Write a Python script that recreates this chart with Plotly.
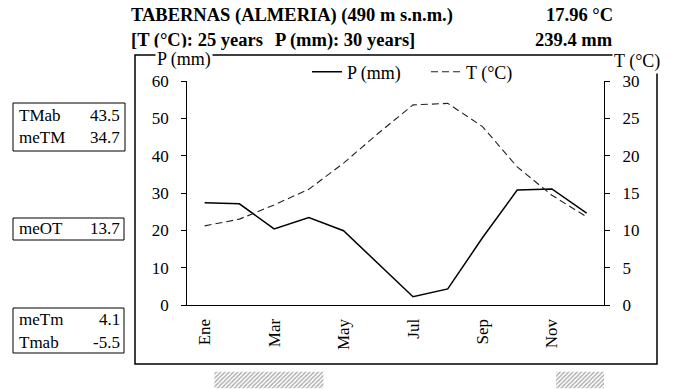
import plotly.graph_objects as go

# ---------------- data ----------------
months = ["Ene", "Feb", "Mar", "Abr", "May", "Jun", "Jul", "Ago", "Sep", "Oct", "Nov", "Dic"]
tick_labels = ["Ene", "Mar", "May", "Jul", "Sep", "Nov"]
precip_mm = [27.4, 27.1, 20.4, 23.4, 19.9, 11.0, 2.2, 4.3, 18.0, 30.8, 31.1, 24.6]
temp_c = [10.6, 11.5, 13.4, 15.5, 19.0, 23.0, 26.8, 27.0, 23.9, 18.5, 14.7, 11.8]
# hatched frost-period bars (month-axis units: start, end)
frost_start = [0.28, 10.12]
frost_end = [3.42, 11.88]
box_top = [("TMab", "43.5"), ("meTM", "34.7")]
box_mid = [("meOT", "13.7")]
box_bot = [("meTm", "4.1"), ("Tmab", "-5.5")]
title_line1 = "TABERNAS (ALMERIA) (490 m s.n.m.)"
title_line2a = "[T (°C): 25 years"
title_line2b = "P (mm): 30 years]"
annual_t = "17.96 °C"
annual_p = "239.4 mm"

W, H = 683, 389
FONT = "Liberation Serif, Times New Roman, DejaVu Serif, serif"


def fx(px):
    return px / W


def fy(py):
    return (H - py) / H


# plot-area pixel box
PL, PR, PT, PB = 187.3, 604.0, 81.0, 305.0

x_idx = list(range(12))

fig = go.Figure()

fig.add_trace(go.Scatter(
    x=x_idx, y=precip_mm, mode="lines", name="P (mm)",
    line=dict(color="black", width=1.5), xaxis="x", yaxis="y"))
fig.add_trace(go.Scatter(
    x=x_idx, y=temp_c, mode="lines", name="T (°C)",
    line=dict(color="#222", width=1.1, dash="7px,4px"), xaxis="x", yaxis="y2"))

fig.add_trace(go.Bar(
    y=[0.5] * len(frost_start),
    x=[e - s for s, e in zip(frost_start, frost_end)],
    base=frost_start, orientation="h", width=1.0,
    marker=dict(color="white", line=dict(width=0),
                pattern=dict(shape="/", fgcolor="#555", bgcolor="white", size=3, solidity=0.45)),
    showlegend=False, xaxis="x3", yaxis="y3", hoverinfo="skip"))

xdom = [fx(PL), fx(PR)]
ydom = [fy(PB), fy(PT)]
TICKF = dict(family=FONT, size=17)

fig.update_layout(
    width=W, height=H,
    margin=dict(l=0, r=0, t=0, b=0, pad=0, autoexpand=False),
    paper_bgcolor="white", plot_bgcolor="white",
    font=dict(family=FONT, size=16, color="black"),
    showlegend=True,
    legend=dict(orientation="h", x=fx(307), y=fy(72), xanchor="left", yanchor="middle",
                font=dict(family=FONT, size=18), bgcolor="rgba(0,0,0,0)",
                entrywidth=74, entrywidthmode="pixels", tracegroupgap=0),
    xaxis=dict(domain=xdom, range=[-0.5, 11.5], tickmode="array",
               tickvals=[0, 2, 4, 6, 8, 10], ticktext=tick_labels, ticks="",
               tickangle=-90, showline=True, linecolor="black", linewidth=1.2,
               showgrid=False, zeroline=False, anchor="y", ticklabelstandoff=6,
               tickfont=TICKF),
    xaxis2=dict(domain=xdom, range=[-0.5, 11.5], overlaying="x", anchor="y",
                tickmode="array", tickvals=[i - 0.5 for i in range(13)],
                ticks="outside", ticklen=5, tickcolor="black", tickwidth=1,
                showticklabels=False, showline=False, showgrid=False, zeroline=False,
                side="bottom"),
    yaxis=dict(domain=ydom, range=[0, 60], dtick=10, ticks="outside", ticklen=5,
               tickcolor="black", showline=True, linecolor="black", linewidth=1.2,
               showgrid=False, zeroline=False, anchor="x", ticklabelstandoff=9,
               tickfont=TICKF),
    yaxis2=dict(domain=ydom, range=[0, 30], dtick=5, ticks="outside", ticklen=5,
                tickcolor="black", showline=True, linecolor="black", linewidth=1.2,
                showgrid=False, zeroline=False, overlaying="y", side="right", anchor="x",
                ticklabelstandoff=9, tickfont=TICKF),
    xaxis3=dict(domain=xdom, range=[-0.5, 11.5], visible=False, anchor="y3"),
    yaxis3=dict(domain=[fy(388.5), fy(371.5)], range=[0, 1], visible=False, anchor="x3"),
)

shapes = [
    dict(type="rect", xref="paper", yref="paper", x0=fx(135), x1=fx(657), y0=fy(364), y1=fy(55),
         line=dict(color="black", width=1.5)),
    dict(type="rect", xref="paper", yref="paper", x0=fx(13), x1=fx(125), y0=fy(151), y1=fy(103),
         line=dict(color="black", width=1)),
    dict(type="rect", xref="paper", yref="paper", x0=fx(13), x1=fx(124), y0=fy(240), y1=fy(218),
         line=dict(color="black", width=1)),
    dict(type="rect", xref="paper", yref="paper", x0=fx(13), x1=fx(124), y0=fy(353), y1=fy(308),
         line=dict(color="black", width=1)),
]
fig.update_layout(shapes=shapes)

ann = []


def text(x, y, s, anchor="left", size=16, bold=False, bg=None):
    d = dict(x=fx(x), y=fy(y), xref="paper", yref="paper", text=("<b>%s</b>" % s) if bold else s,
             showarrow=False, xanchor=anchor, yanchor="middle",
             font=dict(family=FONT, size=size, color="black"))
    if bg:
        d["bgcolor"] = bg
        d["borderpad"] = 1
    ann.append(d)


text(129, 15, title_line1, bold=True, size=18.5)
text(615, 15, annual_t, anchor="right", bold=True, size=18.5)
text(129, 40, title_line2a, bold=True, size=18.5)
text(273, 40, title_line2b, bold=True, size=18.5)
text(615, 40, annual_p, anchor="right", bold=True, size=18.5)

text(184, 60, "P (mm)", anchor="center", size=18, bg="white")
text(637, 61, "T (°C)", anchor="center", size=18, bg="white")

for (lab, val), yy in zip(box_top, [115, 137]):
    text(17, yy, lab, size=17)
    text(122, yy, val, anchor="right", size=17)
for (lab, val), yy in zip(box_mid, [229]):
    text(17, yy, lab, size=17)
    text(122, yy, val, anchor="right", size=17)
for (lab, val), yy in zip(box_bot, [319, 342]):
    text(17, yy, lab, size=17)
    text(122, yy, val, anchor="right", size=17)

fig.update_layout(annotations=ann)

fig.write_html("out.html", config={"displayModeBar": False},
               post_script="document.body.style.margin='0';document.body.style.padding='0';")
